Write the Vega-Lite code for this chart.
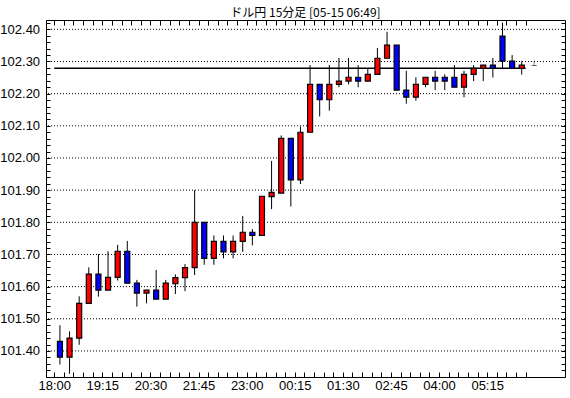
{
  "$schema": "https://vega.github.io/schema/vega-lite/v6.json",
  "autosize": {"type": "none"},
  "padding": {"left": 46, "top": 20, "right": 5, "bottom": 21},
  "width": 519,
  "height": 357,
  "background": "white",
  "title": {"text": "ドル円 15分足 [05-15 06:49]", "font": "Noto Sans CJK JP", "fontSize": 12, "fontWeight": "normal", "color": "black", "anchor": "middle", "offset": -3},
  "config": {
    "view": {"stroke": "black", "strokeWidth": 1},
    "axis": {"labelFont": "Liberation Sans Narrow, Liberation Sans", "labelFontSize": 13, "labelColor": "black", "tickColor": "black", "domain": false, "grid": false, "title": null}
  },
  "datasets": {
    "candles": [
      {"i": 0, "o": 101.430, "h": 101.480, "l": 101.358, "c": 101.381},
      {"i": 1, "o": 101.381, "h": 101.461, "l": 101.329, "c": 101.440},
      {"i": 2, "o": 101.440, "h": 101.570, "l": 101.419, "c": 101.548},
      {"i": 3, "o": 101.548, "h": 101.660, "l": 101.548, "c": 101.639},
      {"i": 4, "o": 101.639, "h": 101.701, "l": 101.569, "c": 101.589},
      {"i": 5, "o": 101.589, "h": 101.710, "l": 101.589, "c": 101.629},
      {"i": 6, "o": 101.629, "h": 101.730, "l": 101.619, "c": 101.710},
      {"i": 7, "o": 101.710, "h": 101.742, "l": 101.611, "c": 101.611},
      {"i": 8, "o": 101.611, "h": 101.621, "l": 101.538, "c": 101.580},
      {"i": 9, "o": 101.580, "h": 101.589, "l": 101.548, "c": 101.589},
      {"i": 10, "o": 101.589, "h": 101.652, "l": 101.561, "c": 101.561},
      {"i": 11, "o": 101.561, "h": 101.621, "l": 101.561, "c": 101.611},
      {"i": 12, "o": 101.609, "h": 101.638, "l": 101.577, "c": 101.628},
      {"i": 13, "o": 101.628, "h": 101.670, "l": 101.586, "c": 101.659},
      {"i": 14, "o": 101.659, "h": 101.900, "l": 101.636, "c": 101.800},
      {"i": 15, "o": 101.800, "h": 101.800, "l": 101.668, "c": 101.688},
      {"i": 16, "o": 101.688, "h": 101.759, "l": 101.668, "c": 101.741},
      {"i": 17, "o": 101.741, "h": 101.759, "l": 101.688, "c": 101.708},
      {"i": 18, "o": 101.708, "h": 101.759, "l": 101.688, "c": 101.741},
      {"i": 19, "o": 101.741, "h": 101.820, "l": 101.708, "c": 101.769},
      {"i": 20, "o": 101.769, "h": 101.779, "l": 101.728, "c": 101.759},
      {"i": 21, "o": 101.759, "h": 101.881, "l": 101.759, "c": 101.881},
      {"i": 22, "o": 101.880, "h": 101.991, "l": 101.841, "c": 101.893},
      {"i": 23, "o": 101.891, "h": 102.070, "l": 101.891, "c": 102.061},
      {"i": 24, "o": 102.061, "h": 102.061, "l": 101.849, "c": 101.932},
      {"i": 25, "o": 101.932, "h": 102.098, "l": 101.919, "c": 102.080},
      {"i": 26, "o": 102.080, "h": 102.289, "l": 102.080, "c": 102.229},
      {"i": 27, "o": 102.229, "h": 102.229, "l": 102.129, "c": 102.181},
      {"i": 28, "o": 102.181, "h": 102.289, "l": 102.147, "c": 102.229},
      {"i": 29, "o": 102.229, "h": 102.311, "l": 102.220, "c": 102.239},
      {"i": 30, "o": 102.239, "h": 102.311, "l": 102.229, "c": 102.251},
      {"i": 31, "o": 102.251, "h": 102.289, "l": 102.220, "c": 102.239},
      {"i": 32, "o": 102.239, "h": 102.279, "l": 102.239, "c": 102.260},
      {"i": 33, "o": 102.260, "h": 102.342, "l": 102.260, "c": 102.310},
      {"i": 34, "o": 102.310, "h": 102.392, "l": 102.310, "c": 102.351},
      {"i": 35, "o": 102.351, "h": 102.351, "l": 102.211, "c": 102.211},
      {"i": 36, "o": 102.211, "h": 102.271, "l": 102.169, "c": 102.189},
      {"i": 37, "o": 102.189, "h": 102.251, "l": 102.178, "c": 102.229},
      {"i": 38, "o": 102.229, "h": 102.251, "l": 102.220, "c": 102.251},
      {"i": 39, "o": 102.251, "h": 102.271, "l": 102.211, "c": 102.239},
      {"i": 40, "o": 102.251, "h": 102.260, "l": 102.211, "c": 102.239},
      {"i": 41, "o": 102.251, "h": 102.289, "l": 102.220, "c": 102.220},
      {"i": 42, "o": 102.220, "h": 102.271, "l": 102.189, "c": 102.260},
      {"i": 43, "o": 102.260, "h": 102.289, "l": 102.239, "c": 102.279},
      {"i": 44, "o": 102.279, "h": 102.289, "l": 102.239, "c": 102.289},
      {"i": 45, "o": 102.289, "h": 102.311, "l": 102.250, "c": 102.279},
      {"i": 46, "o": 102.379, "h": 102.421, "l": 102.279, "c": 102.301},
      {"i": 47, "o": 102.301, "h": 102.320, "l": 102.279, "c": 102.279},
      {"i": 48, "o": 102.279, "h": 102.301, "l": 102.259, "c": 102.289}
    ],
    "grid": [
      {"g": 101.4}, {"g": 101.5}, {"g": 101.6}, {"g": 101.7}, {"g": 101.8}, {"g": 101.9},
      {"g": 102.0}, {"g": 102.1}, {"g": 102.2}, {"g": 102.3}, {"g": 102.4}
    ],
    "ref": [{"v": 102.279, "from": 0, "to": 49}]
  },
  "layer": [
    {
      "data": {"name": "grid"},
      "mark": {"type": "rule", "color": "black", "strokeWidth": 1, "strokeDash": [1, 2]},
      "encoding": {
        "y": {"field": "g", "type": "quantitative", "scale": {"domain": [101.319, 102.429], "nice": false, "zero": false}, "axis": null}
      }
    },
    {
      "data": {"name": "ref"},
      "mark": {"type": "rule", "color": "black", "strokeWidth": 1.3},
      "encoding": {
        "x": {"field": "from", "type": "quantitative", "scale": {"domain": [-0.336, 52.57], "nice": false, "zero": false}, "axis": null},
        "x2": {"field": "to"},
        "y": {"field": "v", "type": "quantitative", "scale": {"domain": [101.319, 102.429], "nice": false, "zero": false}, "axis": null}
      }
    },
    {
      "data": {"name": "candles"},
      "mark": {"type": "rule", "color": "black", "strokeWidth": 1, "xOffset": 5.7},
      "encoding": {
        "x": {"field": "i", "type": "quantitative", "scale": {"domain": [-0.336, 52.57], "nice": false, "zero": false},
          "axis": {"orient": "bottom", "values": [0,1,2,3,4,5,6,7,8,9,10,11,12,13,14,15,16,17,18,19,20,21,22,23,24,25,26,27,28,29,30,31,32,33,34,35,36,37,38,39,40,41,42,43,44,45,46,47,48,49],
            "tickSize": -5, "labelPadding": 7.5, "labelFlush": false, "labelOverlap": false,
            "labelExpr": "datum.value % 5 == 0 && datum.value <= 45 ? ['18:00','19:15','20:30','21:45','23:00','00:15','01:30','02:45','04:00','05:15'][datum.value / 5] : ''"}},
        "y": {"field": "l", "type": "quantitative", "scale": {"domain": [101.319, 102.429], "nice": false, "zero": false},
          "axis": {"orient": "left", "values": [101.32,101.34,101.36,101.38,101.40,101.42,101.44,101.46,101.48,101.50,101.52,101.54,101.56,101.58,101.60,101.62,101.64,101.66,101.68,101.70,101.72,101.74,101.76,101.78,101.80,101.82,101.84,101.86,101.88,101.90,101.92,101.94,101.96,101.98,102.00,102.02,102.04,102.06,102.08,102.10,102.12,102.14,102.16,102.18,102.20,102.22,102.24,102.26,102.28,102.30,102.32,102.34,102.36,102.38,102.40,102.42],
            "tickSize": -4, "labelPadding": 10.4, "labelFlush": false, "labelOverlap": false,
            "labelExpr": "abs(datum.value * 10 - round(datum.value * 10)) < 0.01 && datum.value > 101.35 ? format(datum.value, '.2f') : ''"}},
        "y2": {"field": "h"}
      }
    },
    {
      "data": {"name": "candles"},
      "mark": {"type": "bar", "size": 5, "stroke": "black", "strokeWidth": 1.2, "xOffset": 5.7},
      "encoding": {
        "x": {"field": "i", "type": "quantitative", "scale": {"domain": [-0.336, 52.57], "nice": false, "zero": false},
          "axis": {"orient": "top", "values": [0,1,2,3,4,5,6,7,8,9,10,11,12,13,14,15,16,17,18,19,20,21,22,23,24,25,26,27,28,29,30,31,32,33,34,35,36,37,38,39,40,41,42,43,44,45,46,47,48,49],
            "tickSize": -5, "labels": false}},
        "y": {"field": "o", "type": "quantitative", "scale": {"domain": [101.319, 102.429], "nice": false, "zero": false},
          "axis": {"orient": "right", "values": [101.32,101.34,101.36,101.38,101.40,101.42,101.44,101.46,101.48,101.50,101.52,101.54,101.56,101.58,101.60,101.62,101.64,101.66,101.68,101.70,101.72,101.74,101.76,101.78,101.80,101.82,101.84,101.86,101.88,101.90,101.92,101.94,101.96,101.98,102.00,102.02,102.04,102.06,102.08,102.10,102.12,102.14,102.16,102.18,102.20,102.22,102.24,102.26,102.28,102.30,102.32,102.34,102.36,102.38,102.40,102.42],
            "tickSize": -4, "labels": false}},
        "y2": {"field": "c"},
        "fill": {"condition": {"test": "datum.c >= datum.o", "value": "#ff0000"}, "value": "#0000ff"}
      }
    },
    {
      "data": {"name": "ref"},
      "mark": {"type": "text", "text": "⊥", "font": "DejaVu Sans", "fontSize": 8, "color": "black", "baseline": "alphabetic", "align": "center"},
      "encoding": {
        "x": {"datum": 49.9, "type": "quantitative", "scale": {"domain": [-0.336, 52.57], "nice": false, "zero": false}, "axis": null},
        "y": {"datum": 102.285, "type": "quantitative", "scale": {"domain": [101.319, 102.429], "nice": false, "zero": false}, "axis": null}
      }
    }
  ],
  "resolve": {"axis": {"x": "independent", "y": "independent"}}
}
